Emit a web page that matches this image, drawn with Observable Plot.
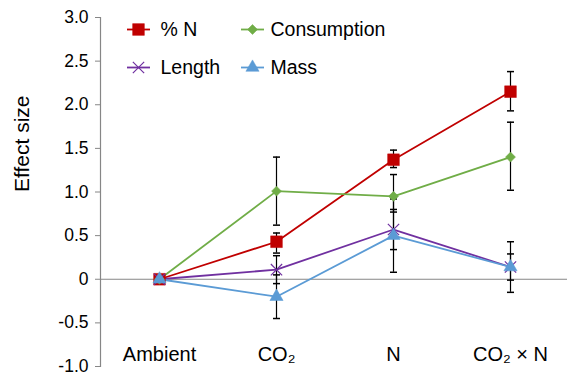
<!DOCTYPE html>
<html>
<head>
<meta charset="utf-8">
<script src="https://cdn.jsdelivr.net/npm/d3@7"></script>
<script src="https://cdn.jsdelivr.net/npm/@observablehq/plot@0.6"></script>
<style>
  html, body { margin: 0; padding: 0; background: #fff; }
  #chart { width: 567px; height: 375px; }
</style>
</head>
<body>
<div id="chart"></div>
<script>
const categories = ["Ambient", "CO₂", "N", "CO₂ × N"];
const seriesNames = ["% N", "Consumption", "Length", "Mass"];

const pctN = [0, 0.43, 1.37, 2.15];
const pctNLow = [0, 0.30, 1.28, 1.93];
const pctNHigh = [0, 0.53, 1.48, 2.38];

const consumption = [0, 1.01, 0.95, 1.40];
const consumptionLow = [0, 0.62, 0.77, 1.02];
const consumptionHigh = [0, 1.40, 1.20, 1.80];

const lengthVals = [0, 0.11, 0.57, 0.14];
const lengthLow = [0, -0.05, 0.34, -0.15];
const lengthHigh = [0, 0.27, 0.80, 0.43];

const mass = [0, -0.20, 0.50, 0.14];
const massLow = [0, -0.45, 0.08, -0.01];
const massHigh = [0, 0.05, 0.92, 0.29];

const yTicks = [-1, -0.5, 0, 0.5, 1, 1.5, 2, 2.5, 3];

const styles = [
  {color: "#c00000", symbol: "square", r: 6.6, filled: true},
  {color: "#70ad47", symbol: "diamond2", r: 4.5, filled: true},
  {color: "#7030a0", symbol: "times", r: 5.2, filled: false},
  {color: "#5b9bd5", symbol: "triangle", r: 4.9, filled: true}
];
const values = [pctN, consumption, lengthVals, mass];
const lows = [pctNLow, consumptionLow, lengthLow, massLow];
const highs = [pctNHigh, consumptionHigh, lengthHigh, massHigh];

const series = seriesNames.map((name, s) =>
  categories.map((c, i) => ({name, cat: c, i, v: values[s][i], lo: lows[s][i], hi: highs[s][i]}))
);

const capSymbol = {draw(ctx) { ctx.moveTo(-3.5, 0); ctx.lineTo(3.5, 0); }};
const legendLine = {draw(ctx) { ctx.moveTo(-11.5, 0); ctx.lineTo(11.5, 0); }};

const marks = [];
marks.push(Plot.ruleY([0], {stroke: "#868686", strokeWidth: 1.2}));
marks.push(Plot.frame({anchor: "left", stroke: "#868686", strokeWidth: 1.2}));
marks.push(Plot.axisY({ticks: yTicks, tickSize: 5, tickPadding: 7, fontSize: 17.5, stroke: "#868686",
  tickFormat: d => d === 0 ? "0" : d.toFixed(1), label: null}));

// lines
series.forEach((data, s) => {
  marks.push(Plot.line(data, {x: "cat", y: "v", stroke: styles[s].color, strokeWidth: 1.8}));
});
// error bars
series.forEach((data, s) => {
  const eb = data.filter(d => d.i > 0);
  marks.push(Plot.ruleX(eb, {x: "cat", y1: "lo", y2: "hi", stroke: "#000", strokeWidth: 1.2}));
  marks.push(Plot.dot(eb, {x: "cat", y: "lo", symbol: capSymbol, stroke: "#000", fill: "none", strokeWidth: 1.5}));
  marks.push(Plot.dot(eb, {x: "cat", y: "hi", symbol: capSymbol, stroke: "#000", fill: "none", strokeWidth: 1.5}));
});
// markers
series.forEach((data, s) => {
  const st = styles[s];
  marks.push(Plot.dot(data, {x: "cat", y: "v", symbol: st.symbol, r: st.r,
    fill: st.filled ? st.color : "none", stroke: st.color, strokeWidth: st.filled ? 0.5 : 1.2}));
});

// category labels
marks.push(Plot.text(categories, {x: d => d, frameAnchor: "bottom", lineAnchor: "middle", dy: -12, fontSize: 20, fill: "#000"}));

// y label
marks.push(Plot.text(["Effect size"], {frameAnchor: "left", lineAnchor: "middle", dx: -78, rotate: -90, fontSize: 21, fill: "#000"}));

// legend
const legendPos = [
  {dx: 38, dy: 12, tx: 60},
  {dx: 152, dy: 12, tx: 170},
  {dx: 38, dy: 50, tx: 60},
  {dx: 152, dy: 50, tx: 170}
];
seriesNames.forEach((name, s) => {
  const p = legendPos[s], st = styles[s];
  marks.push(Plot.dot([name], {frameAnchor: "top-left", dx: p.dx, dy: p.dy, symbol: legendLine,
    stroke: st.color, fill: "none", strokeWidth: 1.8}));
  marks.push(Plot.dot([name], {frameAnchor: "top-left", dx: p.dx, dy: p.dy, symbol: st.symbol, r: st.r,
    fill: st.filled ? st.color : "none", stroke: st.color, strokeWidth: st.filled ? 0.5 : 1.2}));
  marks.push(Plot.text([name], {frameAnchor: "top-left", lineAnchor: "middle", dx: p.tx, dy: p.dy, text: d => d,
    textAnchor: "start", fontSize: 19.5, fill: "#000"}));
});

const chart = Plot.plot({
  width: 567,
  height: 375,
  marginLeft: 100,
  marginRight: 0,
  marginTop: 17,
  marginBottom: 9,
  style: {fontFamily: "'Liberation Sans', Arial, sans-serif", background: "#fff", color: "#000"},
  x: {type: "point", domain: categories, range: [158, 511.5], padding: 0, axis: null},
  y: {domain: [-1, 3]},
  marks
});
document.getElementById("chart").appendChild(chart);
</script>
</body>
</html>
